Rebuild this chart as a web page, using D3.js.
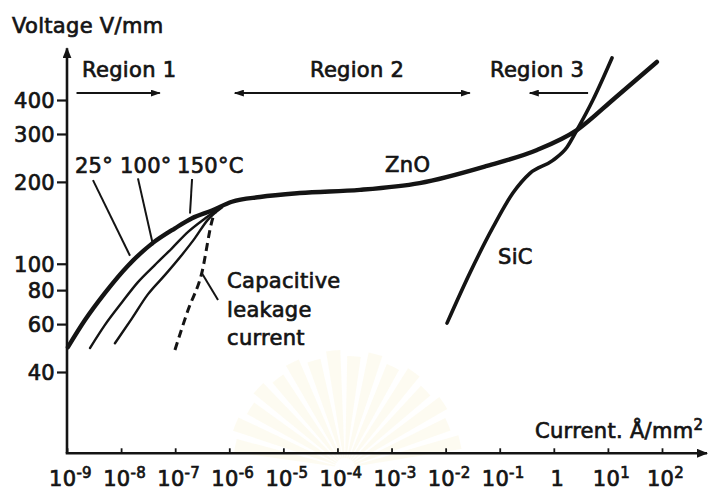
<!DOCTYPE html>
<html>
<head>
<meta charset="utf-8">
<script src="https://cdn.jsdelivr.net/npm/d3@7"></script>
<style>
  html, body { margin: 0; padding: 0; background: #fff; }
  svg { display: block; }
  text { font-family: "DejaVu Sans", sans-serif; fill: #141414; stroke: #141414; stroke-width: 0.7px; letter-spacing: 0.3px; }
</style>
</head>
<body>
<svg id="chart" width="712" height="490"></svg>
<script>
// V-I characteristics of ZnO and SiC varistor material (log-log)

// axis ticks
const currentExponents = [-9, -8, -7, -6, -5, -4, -3, -2, -1, 0, 1, 2];
const voltageTicks = [40, 60, 80, 100, 200, 300, 400];

// [current density A/mm², field V/mm]
const zno25C = [[1.04e-9, 49.4], [2.15e-9, 62.1], [5.0e-9, 78], [1.34e-8, 98.4], [3.72e-8, 118.6],
  [9.9e-8, 135], [2.05e-7, 147], [4.8e-7, 157], [1.12e-6, 169], [3.7e-6, 176], [2.0e-5, 182],
  [2.6e-4, 187], [3.3e-3, 198], [0.058, 229], [0.49, 262], [2.67, 310], [13.5, 407], [80.5, 552]];
const zno100C = [[2.66e-9, 49], [5.0e-9, 59.5], [1.04e-8, 72.2], [2.05e-8, 85.6], [4.2e-8, 98.9],
  [8.7e-8, 114], [1.73e-7, 131], [3.6e-7, 147], [6.8e-7, 161]];
const zno150C = [[7.7e-9, 51], [1.59e-8, 63], [3.1e-8, 77], [6.5e-8, 91], [1.34e-7, 108],
  [2.3e-7, 124], [4.0e-7, 145], [7.3e-7, 161]];
const capacitiveLeakage = [[9.9e-8, 48.2], [1.73e-7, 67.6], [3.1e-7, 92.4], [5.0e-7, 148], [6.2e-7, 161]];
const sicCurve = [[0.0106, 60.5], [0.028, 92.4], [0.0748, 136], [0.175, 182], [0.361, 215],
  [0.96, 240], [1.75, 268], [2.67, 310], [5.28, 400], [11.9, 571]];

// operating regions: name, current span, arrow heads
const regionNames = ["Region 1", "Region 2", "Region 3"];
const regionSpans = [[1.5e-9, 5.2e-8], [1.27e-6, 2.8e-2], [0.36, 4.3]];
const regionHeads = [["end"], ["start", "end"], ["start"]];
const regionLabelAt = [1.9e-9, 3.1e-5, 0.066];

// temperature labels with leader lines [from, to]
const tempLabels = ["25°", "100°", "150°C"];
const tempLabelAt = [[1.4e-9, 215], [9.5e-9, 215], [1.08e-7, 215]];
const tempLeaders = [
  [[3.02e-9, 203], [1.46e-8, 107]],
  [[2.05e-8, 206], [3.9e-8, 117]],
  [[2.05e-7, 205], [1.88e-7, 153]]
];

const svg = d3.select("#chart");

const x = d3.scaleLog().domain([1e-9, 1e2]).range([67, 662]);
const y = d3.scaleLog().domain([40, 400]).range([372, 100]);
const yBottom = 20.1, yTop = 620, xRight = 680;

// faint background emblem (fan of rays)
const emblem = svg.append("g").attr("transform", "translate(345,468)");
const rays = d3.range(16);
const span = 2.9, step = span / rays.length;
const arcGen = d3.arc().innerRadius(10);
emblem.selectAll("path").data(rays).join("path")
  .attr("d", i => arcGen({
    outerRadius: 112 + (i % 2) * 6,
    startAngle: -span / 2 + i * step + 0.02,
    endAngle: -span / 2 + (i + 1) * step - 0.04
  }))
  .attr("fill", "#fbf8e6")
  .attr("opacity", 0.55);

// markers
const defs = svg.append("defs");
function marker(id, size, w) {
  defs.append("marker").attr("id", id)
    .attr("viewBox", `0 ${-w} ${size} ${2 * w}`)
    .attr("refX", size - 1).attr("refY", 0)
    .attr("markerUnits", "userSpaceOnUse")
    .attr("markerWidth", size).attr("markerHeight", 2 * w)
    .attr("orient", "auto-start-reverse")
    .append("path").attr("d", `M0,${-w}L${size},0L0,${w}Z`).attr("fill", "#141414");
}
marker("headAxis", 11, 4.5);
marker("headRegion", 10, 3.5);

// axes lines with arrows
svg.append("line")
  .attr("x1", x(1e-9)).attr("x2", x(1e-9))
  .attr("y1", y(yBottom)).attr("y2", y(yTop))
  .attr("stroke", "#141414").attr("stroke-width", 2.6)
  .attr("marker-end", "url(#headAxis)");
svg.append("line")
  .attr("x1", x(1e-9) - 1.3).attr("x2", x(xRight))
  .attr("y1", y(yBottom)).attr("y2", y(yBottom))
  .attr("stroke", "#141414").attr("stroke-width", 2.4)
  .attr("marker-end", "url(#headAxis)");

// y axis ticks and labels
const yAxis = d3.axisLeft(y).tickValues(voltageTicks).tickFormat(d3.format("d"))
  .tickSize(10).tickPadding(2);
const gy = svg.append("g").attr("transform", `translate(${x(1e-9)},0)`).call(yAxis);
gy.select(".domain").remove();
gy.selectAll(".tick line").attr("stroke", "#141414").attr("stroke-width", 2.2);
gy.selectAll(".tick text").attr("font-size", 21).attr("font-family", null).attr("fill", null)
  .attr("dy", "0.36em").attr("letter-spacing", "1px");

// x axis ticks (pointing up) and power-of-ten labels
const xAxis = d3.axisBottom(x).tickValues(currentExponents.map(e => Math.pow(10, e)))
  .tickFormat(() => "").tickSizeInner(-5).tickSizeOuter(0);
const gx = svg.append("g").attr("transform", `translate(0,${y(yBottom)})`).call(xAxis);
gx.select(".domain").remove();
gx.selectAll(".tick line").attr("stroke", "#141414").attr("stroke-width", 1.8);
gx.selectAll(".tick text").remove();
gx.selectAll(".tick").each(function (d) {
  const e = Math.round(Math.log10(d));
  const t = d3.select(this).append("text")
    .attr("y", 33).attr("dx", 3)
    .attr("text-anchor", "middle").attr("font-size", 21);
  if (e === 0) {
    t.text("1");
  } else {
    t.append("tspan").text("10");
    t.append("tspan").attr("font-size", 15).attr("dy", -8).text(e < 0 ? "-" + (-e) : String(e));
  }
});

// axis titles
svg.append("text").attr("x", 12).attr("y", 33).attr("font-size", 21).text("Voltage V/mm");
const xt = svg.append("text").attr("x", 535).attr("y", 438).attr("font-size", 21);
xt.append("tspan").text("Current. Å/mm");
xt.append("tspan").attr("font-size", 15).attr("dy", -8).text("2");

// curves
const line = d3.line().x(d => x(d[0])).y(d => y(d[1])).curve(d3.curveMonotoneX);
const curves = svg.append("g").attr("fill", "none").attr("stroke", "#141414")
  .attr("stroke-linecap", "round").attr("stroke-linejoin", "round");
curves.append("path").datum(zno100C).attr("d", line).attr("stroke-width", 2.4);
curves.append("path").datum(zno150C).attr("d", line).attr("stroke-width", 2.4);
curves.append("path").datum(capacitiveLeakage).attr("d", line)
  .attr("stroke-width", 3).attr("stroke-dasharray", "8,5").attr("stroke-linecap", "butt");
curves.append("path").datum(sicCurve).attr("d", line).attr("stroke-width", 3.6);
curves.append("path").datum(zno25C).attr("d", line).attr("stroke-width", 4.4);

// temperature labels and leaders
const ann = svg.append("g");
tempLabels.forEach((s, i) => {
  ann.append("text").attr("x", x(tempLabelAt[i][0])).attr("y", y(tempLabelAt[i][1]))
    .attr("font-size", 21).attr("letter-spacing", "-0.6px").text(s);
  const [a, b] = tempLeaders[i];
  ann.append("line").attr("x1", x(a[0])).attr("y1", y(a[1])).attr("x2", x(b[0])).attr("y2", y(b[1]))
    .attr("stroke", "#141414").attr("stroke-width", 2);
});

// curve names
ann.append("text").attr("x", x(7.6e-4)).attr("y", y(217)).attr("font-size", 21).text("ZnO");
ann.append("text").attr("x", x(0.093)).attr("y", y(100)).attr("font-size", 21).text("SiC");

// capacitive leakage note with pointer
const capLines = ["Capacitive", "leakage", "current"];
const capText = ann.append("text").attr("x", x(9.1e-7)).attr("y", y(81.4)).attr("font-size", 21);
capLines.forEach((s, i) => {
  capText.append("tspan").attr("x", x(9.1e-7)).attr("dy", i === 0 ? 0 : 28.5).text(s);
});
ann.append("line").attr("x1", x(3.1e-7)).attr("y1", y(92.4)).attr("x2", x(6.2e-7)).attr("y2", y(73.6))
  .attr("stroke", "#141414").attr("stroke-width", 2);

// region markers
regionNames.forEach((s, i) => {
  ann.append("text").attr("x", x(regionLabelAt[i])).attr("y", y(486)).attr("font-size", 21).text(s);
  const l = ann.append("line")
    .attr("x1", x(regionSpans[i][0])).attr("x2", x(regionSpans[i][1]))
    .attr("y1", y(424)).attr("y2", y(424))
    .attr("stroke", "#141414").attr("stroke-width", 2);
  if (regionHeads[i].includes("start")) l.attr("marker-start", "url(#headRegion)");
  if (regionHeads[i].includes("end")) l.attr("marker-end", "url(#headRegion)");
});
</script>
</body>
</html>
